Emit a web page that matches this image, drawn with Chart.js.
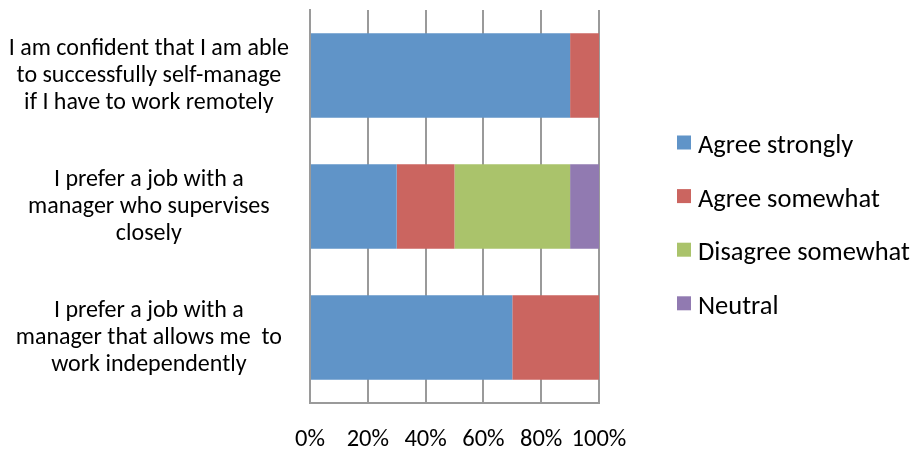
<!DOCTYPE html>
<html>
<head>
<meta charset="utf-8">
<script src="https://cdn.jsdelivr.net/npm/chart.js@4.4.1/dist/chart.umd.min.js"></script>
<style>
  html, body { margin: 0; padding: 0; background: #ffffff; }
  #wrap { width: 914px; height: 452px; position: relative; }
</style>
</head>
<body>
<div id="wrap"><canvas id="c" width="914" height="452"></canvas></div>
<script>
// ---- data ----
const categories = [
  ["I am confident that I am able", "to successfully self-manage", "if I have to work remotely"],
  ["I prefer a job with a", "manager who supervises", "closely"],
  ["I prefer a job with a", "manager that allows me  to", "work independently"]
];
const seriesNames = ["Agree strongly", "Agree somewhat", "Disagree somewhat", "Neutral"];
const agreeStrongly    = [90, 30, 70];
const agreeSomewhat    = [10, 20, 30];
const disagreeSomewhat = [0, 40, 0];
const neutral          = [0, 10, 0];
const xTicks = [0, 20, 40, 60, 80, 100];

const seriesValues = [agreeStrongly, agreeSomewhat, disagreeSomewhat, neutral];
const seriesColors = ["#6094C8", "#CB6560", "#AAC36B", "#917AB1"];
const FONT = "Carlito, Lato, 'Open Sans', sans-serif";

const sideLegend = {
  id: 'sideLegend',
  afterDraw(chart) {
    const ctx = chart.ctx;
    ctx.save();
    ctx.font = "26.5px " + FONT;
    ctx.textBaseline = 'alphabetic';
    ctx.textAlign = 'left';
    const x0 = chart.chartArea.right + 78;
    chart.data.datasets.forEach((ds, i) => {
      const cy = 142.5 + i * 53.6;
      ctx.fillStyle = ds.backgroundColor;
      ctx.fillRect(x0, cy - 7, 14, 14);
      ctx.fillStyle = '#000000';
      ctx.fillText(ds.label, x0 + 21, cy + 10.5);
    });
    ctx.restore();
  }
};

new Chart(document.getElementById('c'), {
  type: 'bar',
  data: {
    labels: categories,
    datasets: seriesNames.map((name, i) => ({
      label: name,
      data: seriesValues[i],
      backgroundColor: seriesColors[i],
      borderWidth: 0,
      categoryPercentage: 1,
      barPercentage: 0.645
    }))
  },
  options: {
    indexAxis: 'y',
    responsive: false,
    animation: false,
    layout: { padding: { top: 10, right: 315, left: 0, bottom: 0 } },
    plugins: {
      legend: { display: false },
      tooltip: { enabled: false }
    },
    scales: {
      x: {
        stacked: true,
        min: 0,
        max: 100,
        afterBuildTicks(scale) { scale.ticks = xTicks.map(v => ({ value: v })); },
        afterFit(scale) { scale.height = 49; scale.paddingLeft = 0; scale.paddingRight = 0; },
        grid: { color: '#9a9a9a', lineWidth: 2, drawTicks: false },
        border: { color: '#9a9a9a', width: 2 },
        ticks: {
          padding: 22,
          color: '#000000',
          font: { family: FONT, size: 24.5 },
          callback: v => v + '%',
          maxRotation: 0,
          autoSkip: false
        }
      },
      y: {
        stacked: true,
        afterFit(scale) { scale.width = 310; scale.paddingTop = 0; scale.paddingBottom = 0; },
        grid: { display: false, drawTicks: false },
        border: { color: '#9a9a9a', width: 2 },
        ticks: {
          crossAlign: 'center',
          padding: 21,
          color: '#000000',
          font: { family: FONT, size: 24, lineHeight: 1.125 }
        }
      }
    }
  },
  plugins: [sideLegend]
});
</script>
</body>
</html>
